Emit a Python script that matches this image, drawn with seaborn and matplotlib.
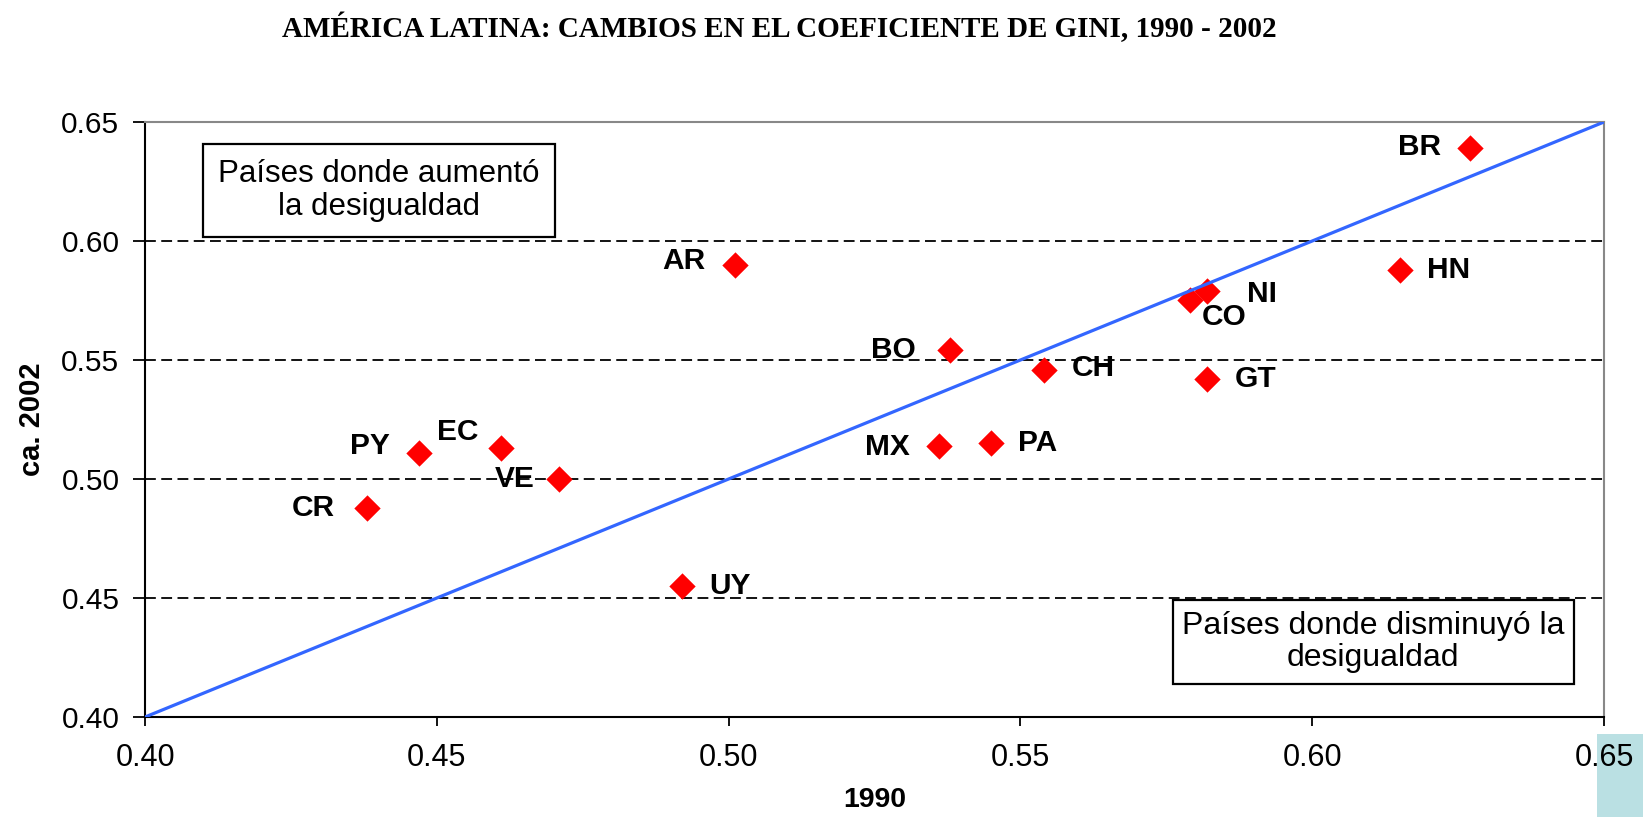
import numpy as np
import matplotlib.pyplot as plt
import matplotlib.patches as mpatches
import seaborn as sns
import pandas as pd

# Datos (coeficiente de Gini)
paises = ['BR', 'HN', 'NI', 'CO', 'AR', 'BO', 'CH', 'GT', 'MX', 'PA',
          'PY', 'EC', 'VE', 'CR', 'UY']
gini_1990 = [0.627, 0.615, 0.582, 0.579, 0.501, 0.538, 0.554, 0.582, 0.536, 0.545,
             0.447, 0.461, 0.471, 0.438, 0.492]
gini_2002 = [0.639, 0.588, 0.579, 0.575, 0.590, 0.554, 0.546, 0.542, 0.514, 0.515,
             0.511, 0.513, 0.500, 0.488, 0.455]
ticks = [0.40, 0.45, 0.50, 0.55, 0.60, 0.65]
tick_labels = ['0.40', '0.45', '0.50', '0.55', '0.60', '0.65']

# posicion de las etiquetas (offset en puntos, alineacion)
label_pos = {
    'BR': (-21, 1, 'right'), 'HN': (19.5, 0, 'left'), 'NI': (29, -2, 'left'),
    'CO': (8.6, -12, 'left'), 'AR': (-21, 3, 'right'), 'BO': (-25, 0, 'right'),
    'CH': (20, 1, 'left'), 'GT': (20, 0, 'left'), 'MX': (-21, -1, 'right'),
    'PA': (19.5, 0, 'left'), 'PY': (-21.5, 5, 'right'), 'EC': (-16, 11.5, 'right'),
    'VE': (-18, 0, 'right'), 'CR': (-23, 0, 'right'), 'UY': (19.5, 0, 'left'),
}

df = pd.DataFrame({'pais': paises, 'g1990': gini_1990, 'g2002': gini_2002})

sns.set_theme(style='white')
plt.rcParams['font.family'] = ['Liberation Sans', 'DejaVu Sans']
plt.rcParams['text.color'] = 'black'
plt.rcParams['axes.labelcolor'] = 'black'
plt.rcParams['xtick.color'] = 'black'
plt.rcParams['ytick.color'] = 'black'

fig = plt.figure(figsize=(16.43, 8.17), dpi=100)
ax = fig.add_axes([0.0883, 0.1224, 0.888, 0.7283])

# lineas punteadas horizontales
for t in ticks[1:-1]:
    ax.axhline(t, color='black', lw=1.3, linestyle=(0, (6, 3)), zorder=1)

sns.scatterplot(data=df, x='g1990', y='g2002', marker='D', color='#FF0000',
                s=180, linewidth=0, ax=ax, zorder=3)

# linea de igualdad
ax.axline((ticks[0], ticks[0]), slope=1, color='#3366FF', lw=2.3, zorder=4)

for p, x, y in zip(paises, gini_1990, gini_2002):
    dx, dy, ha = label_pos[p]
    ax.annotate(p, (x, y), xytext=(dx, dy), textcoords='offset points',
                ha=ha, va='center', fontsize=21.5, fontweight='bold', zorder=5)

ax.set_xlim(ticks[0], ticks[-1])
ax.set_ylim(ticks[0], ticks[-1])
ax.set_xticks(ticks)
ax.set_xticklabels(tick_labels)
ax.set_yticks(ticks)
ax.set_yticklabels(tick_labels)
ax.tick_params(axis='x', direction='out', length=6.5, width=1.3, labelsize=22,
               pad=12, bottom=True)
ax.tick_params(axis='y', direction='out', length=8.5, width=1.3, labelsize=21.5,
               pad=10, left=True)

for s in ['left', 'bottom']:
    ax.spines[s].set_color('black')
    ax.spines[s].set_linewidth(1.5)
for s in ['top', 'right']:
    ax.spines[s].set_color('#888888')
    ax.spines[s].set_linewidth(1.5)

ax.set_xlabel('1990', fontsize=20.5, fontweight='bold', labelpad=10)
ax.set_ylabel('ca. 2002', fontsize=21, fontweight='bold', labelpad=11)

# cuadros de texto
ax.add_patch(mpatches.Rectangle((0.0398, 0.807), 0.2412, 0.156, transform=ax.transAxes,
                                fill=True, facecolor='white', edgecolor='black',
                                lw=1.6, zorder=6))
ax.text(0.1604, 0.885, 'Países donde aumentó\nla desigualdad', transform=ax.transAxes,
        ha='center', va='center', fontsize=22.5, linespacing=1.1, zorder=7)
ax.add_patch(mpatches.Rectangle((0.7044, 0.0555), 0.275, 0.1411, transform=ax.transAxes,
                                fill=True, facecolor='white', edgecolor='black',
                                lw=1.6, zorder=6))
ax.text(0.8417, 0.126, 'Países donde disminuyó la\ndesigualdad', transform=ax.transAxes,
        ha='center', va='center', fontsize=23, linespacing=1.05, zorder=7)

fig.text(0.4744, 0.966, 'AMÉRICA LATINA: CAMBIOS EN EL COEFICIENTE DE GINI, 1990 - 2002',
         ha='center', va='center', fontsize=21, fontweight='bold',
         family=['Liberation Serif', 'DejaVu Serif'])

# recuadro celeste en la esquina
fig.patches.append(mpatches.Rectangle((1597 / 1643, 0), 1 - 1597 / 1643, 83 / 817,
                                      transform=fig.transFigure, facecolor='#BAE0E3',
                                      edgecolor='none', zorder=-1))

fig.savefig('out.png', dpi=100)
